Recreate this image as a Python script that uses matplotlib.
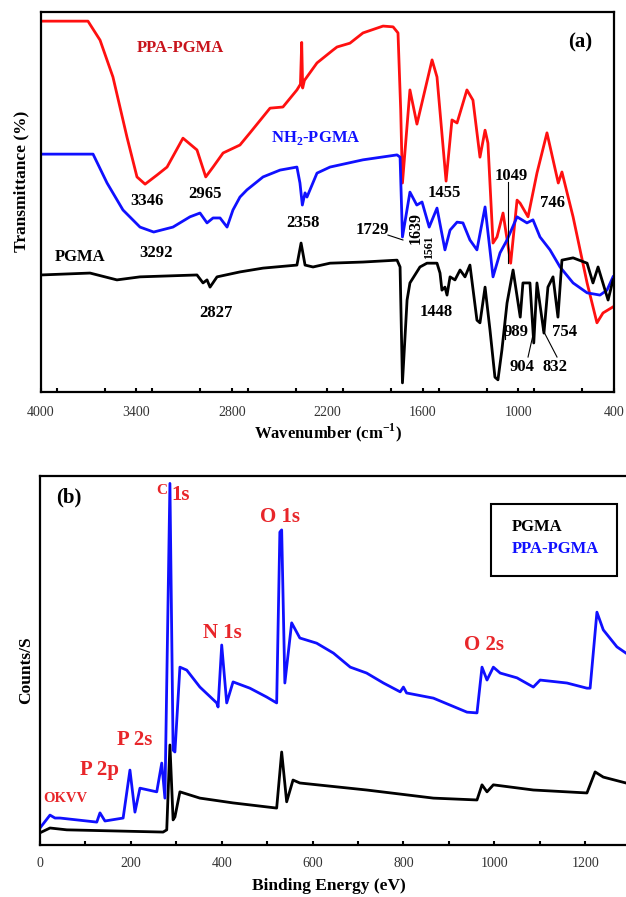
import matplotlib
matplotlib.use("Agg")
import matplotlib.pyplot as plt
from matplotlib.patches import Rectangle
from matplotlib.ticker import MultipleLocator

plt.rcParams['font.family'] = ['Liberation Serif', 'DejaVu Serif']
plt.rcParams['mathtext.fontset'] = 'custom'
plt.rcParams['mathtext.rm'] = 'Liberation Serif'
plt.rcParams['mathtext.bf'] = 'Liberation Serif:bold'

# ---------------- (a) FTIR data ----------------
ppa_wn = [4000, 3705, 3629, 3548, 3460, 3397, 3346, 3271, 3208, 3108, 3020, 2965, 2919, 2856,
          2750, 2687, 2561, 2480, 2392, 2370, 2362, 2356, 2345, 2266, 2165, 2140, 2059, 1977,
          1851, 1788, 1757, 1740, 1729, 1682, 1638, 1543, 1512, 1455, 1418, 1386, 1324, 1286,
          1242, 1210, 1192, 1160, 1135, 1097, 1049, 1009, 990, 940, 884, 821, 750, 727, 657,
          569, 507, 469, 406]
ppa_t = [97.6, 97.6, 92.6, 82.9, 67.1, 56.6, 54.7, 57.1, 59.2, 66.8, 63.7, 56.6, 59.2, 62.9,
         65.0, 68.2, 74.7, 75.0, 79.5, 81.0, 92.0, 80.0, 82.0, 86.6, 90.0, 90.8, 91.8, 94.5,
         96.3, 96.1, 94.5, 74.2, 55.0, 79.5, 70.5, 87.4, 82.9, 55.5, 71.6, 70.8, 79.5, 76.8,
         61.8, 68.9, 65.5, 39.2, 40.8, 47.1, 33.9, 50.5, 49.7, 46.1, 57.6, 68.2, 55.0, 57.9, 46.1,
         28.7, 18.2, 20.8, 22.4]

nh2_wn = [4000, 3673, 3585, 3485, 3378, 3292, 3171, 3064, 3001, 2957, 2919, 2875, 2831, 2794,
          2750, 2706, 2605, 2498, 2392, 2373, 2358, 2341, 2329, 2266, 2184, 1977, 1763, 1744,
          1729, 1682, 1639, 1606, 1561, 1512, 1462, 1430, 1386, 1349, 1305, 1261, 1210, 1160,
          1116, 1072, 1009, 947, 909, 865, 802, 739, 657, 569, 488, 444, 406]
nh2_t = [62.6, 62.6, 55.0, 47.9, 43.4, 42.1, 43.4, 46.1, 47.1, 44.5, 45.8, 45.8, 43.4, 47.9,
         51.3, 53.2, 56.6, 58.4, 59.2, 55.0, 49.2, 52.4, 51.3, 57.6, 59.2, 61.1, 62.4, 61.8,
         40.8, 52.6, 49.2, 50.0, 43.4, 48.4, 37.4, 42.6, 44.7, 44.5, 40.0, 37.4, 48.7, 30.3,
         36.6, 40.0, 46.1, 44.5, 45.3, 40.8, 37.4, 32.9, 28.7, 26.1, 25.5, 26.8, 30.3]

pgma_wn = [4000, 3692, 3523, 3378, 3020, 2982, 2957, 2938, 2894, 2750, 2605, 2392, 2366, 2341,
           2291, 2184, 1977, 1763, 1744, 1729, 1700, 1682, 1619, 1575, 1512, 1493, 1481, 1462,
           1449, 1430, 1399, 1367, 1336, 1305, 1261, 1242, 1210, 1179, 1148, 1129, 1104, 1072,
           1034, 989, 972, 928, 904, 884, 840, 815, 783, 752, 727, 657, 569, 532, 500, 456,
           437, 406]
pgma_t = [30.8, 31.3, 29.5, 30.3, 30.8, 28.7, 29.5, 27.6, 30.3, 31.6, 32.6, 33.4, 39.2, 33.4,
          32.9, 33.9, 34.2, 34.7, 32.9, 2.4, 24.2, 28.7, 32.9, 33.9, 33.9, 31.3, 26.8, 27.6,
          25.5, 30.3, 29.5, 32.1, 30.3, 33.4, 18.9, 18.2, 27.6, 16.3, 3.9, 3.2, 11.1, 23.4,
          32.1, 19.7, 28.7, 28.7, 12.9, 28.7, 15.5, 27.6, 30.3, 19.7, 34.7, 35.3, 33.9, 28.7,
          32.9, 26.8, 24.2, 29.5]

# ---------------- (b) XPS data ----------------
ppa_be = [0, 22, 33, 44, 125, 132, 143, 183, 198, 209, 220, 257, 268, 275, 286, 293, 297, 308,
          323, 352, 389, 392, 400, 411, 425, 462, 499, 521, 528, 532, 539, 554, 572, 609, 646,
          683, 719, 756, 793, 800, 807, 866, 903, 940, 962, 973, 984, 998, 1013, 1050, 1086,
          1101, 1160, 1204, 1211, 1226, 1240, 1270, 1290]
ppa_counts = [4.6, 8.1, 7.3, 7.3, 6.2, 8.7, 6.5, 7.3, 20.3, 8.9, 15.4, 14.4, 22.2, 12.7, 98.0,
              25.7, 25.2, 48.2, 47.4, 42.8, 38.5, 37.4, 54.2, 38.5, 44.2, 42.5, 40.1, 38.5, 84.8,
              85.4, 43.9, 60.2, 56.1, 54.7, 52.0, 48.2, 46.6, 43.9, 41.5, 42.8, 41.2, 39.8, 37.9,
              36.0, 35.8, 48.2, 44.7, 48.2, 46.6, 45.3, 42.8, 44.7, 43.9, 42.5, 42.5, 63.1, 58.3,
              53.7, 52.0]

pgma_be = [0, 22, 59, 271, 279, 286, 293, 297, 308, 352, 425, 521, 532, 543, 557, 572, 719, 866,
           962, 973, 984, 998, 1086, 1204, 1222, 1240, 1290]
pgma_counts = [3.3, 4.6, 4.1, 3.5, 4.1, 27.1, 6.8, 7.6, 14.4, 12.7, 11.4, 10.0, 25.2, 11.7, 17.6,
               16.8, 14.9, 12.7, 12.2, 16.3, 14.4, 16.3, 14.9, 14.1, 19.8, 18.4, 16.8]

ftir_ticks = [4000, 3400, 2800, 2200, 1600, 1000, 400]
xps_ticks = [0, 200, 400, 600, 800, 1000, 1200]

RED = '#ff1010'
BLUE = '#1010ff'
LABEL_RED = '#c8141c'
XPS_RED = '#e8262a'

fig = plt.figure(figsize=(6.26, 8.97), dpi=100)

# ---------------- panel (a) ----------------
ax1 = fig.add_axes([0.0655, 0.5630, 0.9153, 0.4236])
ax1.plot(ppa_wn, ppa_t, color=RED, lw=2.0)
ax1.plot(nh2_wn, nh2_t, color=BLUE, lw=2.0)
ax1.plot(pgma_wn, pgma_t, color='black', lw=2.0)
ax1.set_xlim(4000, 400)
ax1.set_ylim(0, 100)
ax1.set_xticks(ftir_ticks)
ax1.xaxis.set_minor_locator(MultipleLocator(300))
ax1.set_yticks([])
ax1.tick_params(axis='x', which='both', direction='in', length=3, width=1.5, pad=10,
                labelsize=10, labelcolor='#333333', top=False)
for s in ax1.spines.values():
    s.set_linewidth(1.6)
ax1.set_xlabel(r'Wavenumber (cm$^{\mathbf{-1}}$)', fontsize=12, fontweight='bold')
ax1.xaxis.set_label_coords(0.5, -0.078)
ax1.set_ylabel('Transmittance (%)', fontsize=12.5, fontweight='bold')
ax1.yaxis.set_label_coords(-0.020, 0.553)

tkw = dict(fontsize=12, fontweight='bold', ha='center', va='center')
ax1.text(3127, 90.5, 'PPA-PGMA', color=LABEL_RED, **tkw)
ax1.text(2272, 66.8, r'NH$_\mathbf{2}$-PGMA', color=BLUE, **tkw)
ax1.text(3755, 35.5, 'PGMA', color='black', **tkw)
ax1.text(613, 92.1, '(a)', color='black', fontsize=15, fontweight='bold', ha='center', va='center')
for lbl, x, y in [('3346', 3334, 50.3), ('2965', 2970, 52.1), ('3292', 3277, 36.6),
                  ('2827', 2900, 20.8), ('2358', 2354, 44.5), ('1729', 1920, 42.6),
                  ('1455', 1468, 52.4), ('1049', 1047, 56.8), ('746', 789, 49.7),
                  ('1448', 1518, 21.1), ('989', 1016, 15.8), ('904', 978, 6.6),
                  ('832', 771, 6.6), ('754', 708, 15.8)]:
    ax1.text(x, y, lbl, color='black', **tkw)
ax1.text(1644, 43.2, '1639', color='black', rotation=90, fontsize=11.5, fontweight='bold',
         ha='center', va='center')
ax1.text(1562, 38.2, '1561', color='black', rotation=90, fontsize=8.5, fontweight='bold',
         ha='center', va='center')
lk = dict(color='black', lw=0.8)
ax1.plot([1820, 1726], [41.3, 40.0], **lk)
ax1.plot([1066, 1066], [55.3, 33.9], **lk)
ax1.plot([1085, 1085], [14.0, 18.5], **lk)
ax1.plot([909, 940], [15.0, 9.2], **lk)
ax1.plot([846, 758], [16.3, 9.2], **lk)

# ---------------- panel (b) ----------------
ax2 = fig.add_axes([0.0639, 0.0580, 0.9361, 0.4113])
ax2.plot(pgma_be, pgma_counts, color='black', lw=2.0)
ax2.plot(ppa_be, ppa_counts, color=BLUE, lw=2.0)
ax2.set_xlim(0, 1290)
ax2.set_ylim(0, 100)
ax2.set_xticks(xps_ticks)
ax2.xaxis.set_minor_locator(MultipleLocator(100))
ax2.set_yticks([])
ax2.tick_params(axis='x', which='both', direction='in', length=3, width=1.5, pad=9,
                labelsize=10, labelcolor='#333333', top=False)
for s in ax2.spines.values():
    s.set_linewidth(1.6)
ax2.spines['right'].set_visible(False)
ax2.set_xlabel('Binding Energy (eV)', fontsize=12.5, fontweight='bold')
ax2.xaxis.set_label_coords(0.493, -0.090)
ax2.set_ylabel('Counts/S', fontsize=12.5, fontweight='bold')
ax2.yaxis.set_label_coords(-0.010, 0.474)

pk = dict(color=XPS_RED, fontweight='bold', ha='center', va='center')
ax2.text(269, 96.2, 'C', fontsize=11, **pk)
ax2.text(310, 94.9, '1s', fontsize=15, **pk)
ax2.text(528, 88.9, 'O 1s', fontsize=15, **pk)
ax2.text(401, 57.5, 'N 1s', fontsize=15, **pk)
ax2.text(209, 28.5, 'P 2s', fontsize=15, **pk)
ax2.text(132, 20.3, 'P 2p', fontsize=15, **pk)
ax2.text(55, 12.7, 'OKVV', fontsize=10.5, **pk)
ax2.text(978, 54.2, 'O 2s', fontsize=15, **pk)
ax2.text(64, 94.3, '(b)', color='black', fontsize=15, fontweight='bold', ha='center', va='center')

ax2.add_patch(Rectangle((993, 72.9), 1270 - 993, 92.4 - 72.9, fill=False,
                        edgecolor='black', lw=1.5))
ax2.text(1039, 86.2, 'PGMA', color='black', fontsize=12, fontweight='bold', ha='left', va='center')
ax2.text(1039, 80.2, 'PPA-PGMA', color=BLUE, fontsize=12, fontweight='bold', ha='left', va='center')

fig.savefig('out.png', dpi=100)
